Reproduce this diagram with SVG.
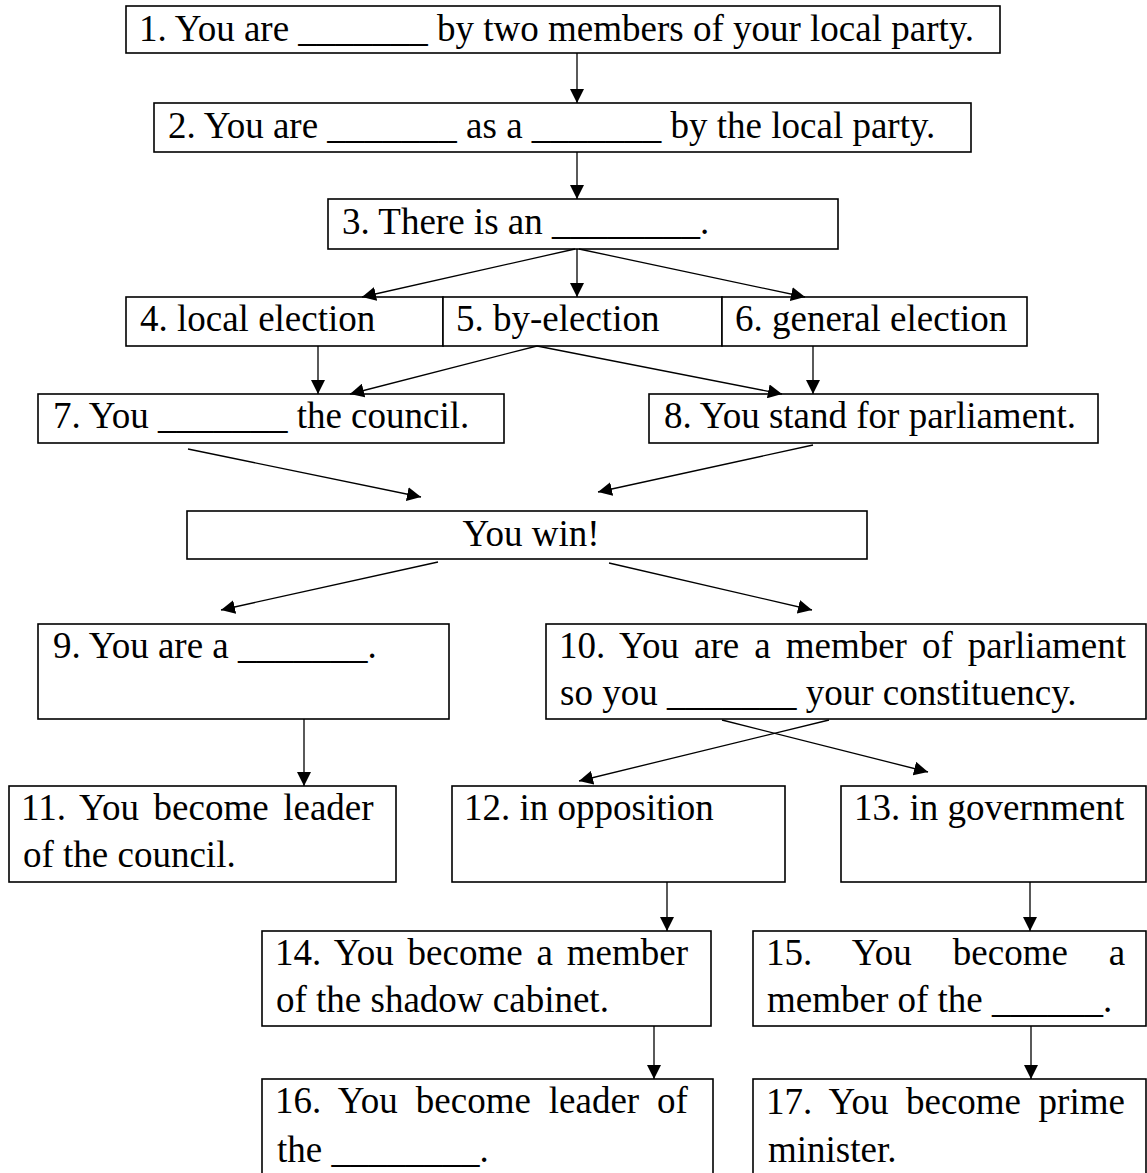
<svg xmlns="http://www.w3.org/2000/svg" width="1147" height="1173" viewBox="0 0 1147 1173">
<defs>
<marker id="ah" markerUnits="userSpaceOnUse" markerWidth="14" markerHeight="14" refX="14" refY="7" orient="auto"><path d="M0,0 L14,7 L0,14 z" fill="#000"/></marker>
</defs>
<style>
rect.b{fill:#fff;stroke:#000;stroke-width:1.6}
text{font-family:"Liberation Serif","Times New Roman",serif;font-size:37px;fill:#000}
.c line{stroke:#000;stroke-width:1.3;marker-end:url(#ah)}
</style>
<rect width="1147" height="1173" fill="#fff"/>
<g id="n1"><rect class="b" x="126" y="6" width="874" height="47"/><text x="139" y="41">1. You are _______ by two members of your local party.</text></g>
<g id="n2"><rect class="b" x="154" y="103" width="817" height="49"/><text x="168" y="138">2. You are _______ as a _______ by the local party.</text></g>
<g id="n3"><rect class="b" x="328" y="199" width="510" height="50"/><text x="342" y="234">3. There is an ________.</text></g>
<g id="n4"><rect class="b" x="126" y="297" width="317" height="49"/><text x="140" y="331">4. local election</text></g>
<g id="n5"><rect class="b" x="443" y="297" width="279" height="49"/><text x="456" y="331">5. by-election</text></g>
<g id="n6"><rect class="b" x="722" y="297" width="305" height="49"/><text x="735" y="331">6. general election</text></g>
<g id="n7"><rect class="b" x="38" y="394" width="466" height="49"/><text x="53" y="428">7. You _______ the council.</text></g>
<g id="n8"><rect class="b" x="649" y="394" width="449" height="49"/><text x="664" y="428">8. You stand for parliament.</text></g>
<g id="win"><rect class="b" x="187" y="511" width="680" height="48"/><text x="531" y="546" text-anchor="middle">You win!</text></g>
<g id="n9"><rect class="b" x="38" y="624" width="411" height="95"/><text x="53" y="658">9. You are a _______.</text></g>
<g id="n10"><rect class="b" x="546" y="624" width="600" height="95"/><text x="559" y="658" word-spacing="5.8">10. You are a member of parliament</text><text x="560" y="705">so you _______ your constituency.</text></g>
<g id="n11"><rect class="b" x="9" y="786" width="387" height="96"/><text x="21" y="820" word-spacing="5.3">11. You become leader</text><text x="23" y="867">of the council.</text></g>
<g id="n12"><rect class="b" x="452" y="786" width="333" height="96"/><text x="464" y="820">12. in opposition</text></g>
<g id="n13"><rect class="b" x="841" y="786" width="305" height="96"/><text x="854" y="820">13. in government</text></g>
<g id="n14"><rect class="b" x="262" y="931" width="449" height="95"/><text x="275" y="965" word-spacing="4.6">14. You become a member</text><text x="276" y="1012">of the shadow cabinet.</text></g>
<g id="n15"><rect class="b" x="753" y="931" width="393" height="95"/><text x="766" y="965" word-spacing="31.7">15. You become a</text><text x="767" y="1012">member of the ______.</text></g>
<g id="n16"><rect class="b" x="262" y="1079" width="451" height="110"/><text x="275" y="1113" word-spacing="8.7">16. You become leader of</text><text x="277" y="1162">the ________.</text></g>
<g id="n17"><rect class="b" x="753" y="1079" width="393" height="110"/><text x="766" y="1114" word-spacing="8.3">17. You become prime</text><text x="768" y="1162">minister.</text></g>
<g id="connectors" class="c">
<line x1="577" y1="53" x2="577" y2="103"/>
<line x1="577" y1="152" x2="577" y2="199"/>
<line x1="575" y1="249" x2="362" y2="297"/>
<line x1="577" y1="249" x2="577" y2="297"/>
<line x1="579" y1="249" x2="805" y2="297"/>
<line x1="318" y1="346" x2="318" y2="394"/>
<line x1="537" y1="346" x2="350" y2="394"/>
<line x1="537" y1="346" x2="782" y2="394"/>
<line x1="813" y1="346" x2="813" y2="394"/>
<line x1="188" y1="449" x2="421" y2="497"/>
<line x1="813" y1="445" x2="598" y2="492"/>
<line x1="438" y1="562" x2="221" y2="610"/>
<line x1="609" y1="563" x2="812" y2="610"/>
<line x1="304" y1="719" x2="304" y2="786"/>
<line x1="829" y1="720" x2="579" y2="781"/>
<line x1="722" y1="720" x2="928" y2="772"/>
<line x1="667" y1="882" x2="667" y2="931"/>
<line x1="1030" y1="882" x2="1030" y2="931"/>
<line x1="654" y1="1026" x2="654" y2="1079"/>
<line x1="1031" y1="1026" x2="1031" y2="1079"/>
</g>
</svg>
